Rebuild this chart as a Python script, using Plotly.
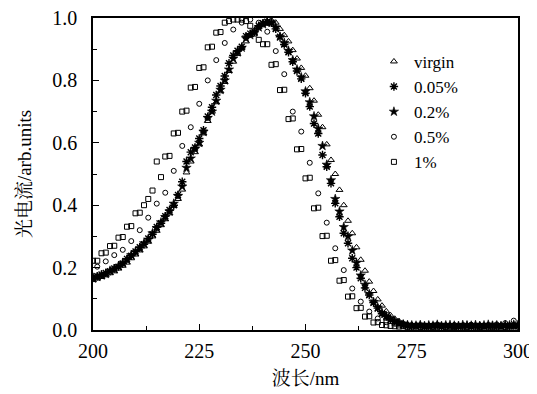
import numpy as np
import plotly.graph_objects as go

# ---------------- data ----------------
wl_main = list(range(200, 301))  # 1 nm grid for virgin / 0.05% / 0.2%

star_02 = [0.165, 0.170, 0.175, 0.180, 0.190, 0.195, 0.205, 0.215, 0.225, 0.240,
           0.250, 0.262, 0.278, 0.290, 0.310, 0.327, 0.345, 0.362, 0.380, 0.405,
           0.430, 0.460, 0.520, 0.550, 0.580, 0.600, 0.635, 0.680, 0.700, 0.735,
           0.770, 0.800, 0.835, 0.870, 0.890, 0.905, 0.935, 0.945, 0.955, 0.970,
           0.980, 0.985, 0.985, 0.970, 0.940, 0.920, 0.895, 0.865, 0.835, 0.810,
           0.765, 0.730, 0.685, 0.645, 0.590, 0.530, 0.480, 0.420, 0.380, 0.330,
           0.300, 0.255, 0.215, 0.175, 0.145, 0.115, 0.090, 0.072, 0.055, 0.043,
           0.035, 0.027, 0.022, 0.018, 0.016, 0.015, 0.014, 0.016, 0.013, 0.015,
           0.014, 0.017, 0.013, 0.015, 0.016, 0.014, 0.013, 0.016, 0.015, 0.014,
           0.016, 0.013, 0.015, 0.017, 0.014, 0.015, 0.013, 0.016, 0.015, 0.017,
           0.016]

ast_005 = [0.170, 0.172, 0.178, 0.183, 0.188, 0.197, 0.203, 0.213, 0.228, 0.238,
           0.252, 0.265, 0.275, 0.293, 0.307, 0.330, 0.342, 0.365, 0.385, 0.400,
           0.433, 0.475, 0.540, 0.570, 0.585, 0.614, 0.640, 0.684, 0.714, 0.753,
           0.782, 0.814, 0.855, 0.880, 0.895, 0.908, 0.942, 0.950, 0.956, 0.975,
           0.983, 0.988, 0.985, 0.965, 0.940, 0.915, 0.890, 0.860, 0.830, 0.805,
           0.759, 0.716, 0.662, 0.630, 0.561, 0.523, 0.470, 0.406, 0.363, 0.310,
           0.278, 0.230, 0.200, 0.166, 0.135, 0.112, 0.088, 0.070, 0.052, 0.043,
           0.033, 0.027, 0.021, 0.017, 0.014, 0.013, 0.012, 0.014, 0.011, 0.013,
           0.012, 0.014, 0.011, 0.013, 0.012, 0.011, 0.013, 0.012, 0.014, 0.011,
           0.012, 0.013, 0.011, 0.012, 0.014, 0.012, 0.011, 0.013, 0.012, 0.014,
           0.013]

virgin = [0.160, 0.165, 0.170, 0.175, 0.182, 0.188, 0.197, 0.206, 0.216, 0.230,
          0.242, 0.255, 0.268, 0.283, 0.300, 0.318, 0.336, 0.355, 0.374, 0.398,
          0.420, 0.450, 0.505, 0.540, 0.570, 0.595, 0.630, 0.670, 0.700, 0.730,
          0.765, 0.795, 0.830, 0.860, 0.885, 0.905, 0.925, 0.945, 0.960, 0.972,
          0.982, 0.990, 0.992, 0.985, 0.965, 0.945, 0.925, 0.897, 0.870, 0.840,
          0.815, 0.775, 0.735, 0.690, 0.650, 0.595, 0.545, 0.500, 0.449, 0.400,
          0.350, 0.310, 0.265, 0.225, 0.190, 0.155, 0.125, 0.098, 0.078, 0.060,
          0.047, 0.036, 0.028, 0.022, 0.018, 0.016, 0.015, 0.013, 0.015, 0.014,
          0.012, 0.014, 0.015, 0.013, 0.012, 0.014, 0.013, 0.015, 0.012, 0.014,
          0.013, 0.015, 0.012, 0.014, 0.013, 0.012, 0.014, 0.013, 0.015, 0.012,
          0.014]

wl_circ = list(range(201, 300, 2))  # 0.5% sampled every 2 nm
circ_05 = [0.203, 0.220, 0.240, 0.257, 0.285, 0.320, 0.360, 0.405, 0.440, 0.510,
           0.590, 0.650, 0.725, 0.800, 0.865, 0.920, 0.963, 0.985, 0.995, 0.985,
           0.956, 0.894, 0.820, 0.700, 0.636, 0.536, 0.438, 0.344, 0.262, 0.192,
           0.133, 0.091, 0.059, 0.037, 0.025, 0.020, 0.017, 0.015, 0.016, 0.014,
           0.017, 0.015, 0.016, 0.014, 0.017, 0.015, 0.016, 0.018, 0.022, 0.030]

wl_sq = list(range(200, 301))  # 1% on 1 nm grid
sq_1 = [0.222, 0.222, 0.246, 0.248, 0.269, 0.270, 0.296, 0.298, 0.331, 0.333,
        0.374, 0.376, 0.400, 0.420, 0.447, 0.540, 0.490, 0.556, 0.558, 0.630,
        0.632, 0.700, 0.703, 0.777, 0.779, 0.840, 0.842, 0.906, 0.908, 0.953,
        0.955, 0.985, 0.990, 0.995, 0.995, 0.995, 0.990, 0.975, 0.950, 0.930,
        0.916, 0.916, 0.850, 0.852, 0.769, 0.770, 0.676, 0.678, 0.579, 0.580,
        0.486, 0.488, 0.390, 0.392, 0.301, 0.302, 0.222, 0.224, 0.158, 0.160,
        0.107, 0.108, 0.070, 0.071, 0.043, 0.044, 0.024, 0.025, 0.016, 0.015,
        0.013, 0.012, 0.011, 0.012, 0.010, 0.011, 0.012, 0.010, 0.011, 0.012,
        0.010, 0.011, 0.012, 0.010, 0.011, 0.010, 0.012, 0.011, 0.010, 0.012,
        0.011, 0.010, 0.012, 0.011, 0.010, 0.011, 0.012, 0.010, 0.011, 0.012,
        0.011]

x_ticks = [200, 225, 250, 275, 300]
y_ticks = [0.0, 0.2, 0.4, 0.6, 0.8, 1.0]
y_ticklabels = ["0.0", "0.2", "0.4", "0.6", "0.8", "1.0"]

FONT = "Liberation Serif, Noto Serif CJK SC, Noto Sans CJK SC, serif"

fig = go.Figure()
fig.add_trace(go.Scatter(x=wl_main, y=virgin, mode="markers", name="virgin",
                         marker=dict(symbol="triangle-up-open", size=6, color="black",
                                     line=dict(width=1, color="black"))))
fig.add_trace(go.Scatter(x=wl_main, y=ast_005, mode="markers", name="0.05%",
                         marker=dict(symbol="asterisk-open", size=7, color="black",
                                     line=dict(width=1.4, color="black"))))
fig.add_trace(go.Scatter(x=wl_main, y=star_02, mode="markers", name="0.2%",
                         marker=dict(symbol="star", size=7, color="black",
                                     line=dict(width=0.6, color="black"))))
fig.add_trace(go.Scatter(x=wl_circ, y=circ_05, mode="markers", name="0.5%",
                         marker=dict(symbol="circle-open", size=5, color="black",
                                     line=dict(width=1, color="black"))))
fig.add_trace(go.Scatter(x=wl_sq, y=sq_1, mode="markers", name="1%",
                         marker=dict(symbol="square-open", size=5, color="black",
                                     line=dict(width=1, color="black"))))

axis_common = dict(
    showline=True, linecolor="black", linewidth=1.5, mirror=True,
    ticks="inside", ticklen=6, tickwidth=1.2, tickcolor="black",
    showgrid=False, zeroline=False,
    tickfont=dict(family=FONT, size=20, color="black"),
    ticklabeloverflow="allow",
)

fig.update_xaxes(range=[200, 300], tickvals=x_ticks, automargin=False,
                 minor=dict(ticks="inside", ticklen=4, tickwidth=1, tickcolor="black",
                            dtick=12.5, tick0=200, showgrid=False),
                 ticklabelstandoff=2,
                 title=dict(text="波长/nm", font=dict(family=FONT, size=19, color="black"),
                            standoff=11),
                 **axis_common)
fig.update_yaxes(range=[0, 1.0], tickvals=y_ticks, ticktext=y_ticklabels, automargin=True,
                 minor=dict(ticks="inside", ticklen=4, tickwidth=1, tickcolor="black",
                            dtick=0.1, tick0=0, showgrid=False),
                 ticklabelstandoff=10,
                 title=dict(text="光电流/arb.units", font=dict(family=FONT, size=19, color="black"),
                            standoff=16),
                 **axis_common)

fig.update_layout(
    width=529, height=386,
    margin=dict(l=85, r=19, t=10, b=64, autoexpand=False),
    paper_bgcolor="white", plot_bgcolor="white",
    font=dict(family=FONT, color="black"),
    showlegend=True,
    legend=dict(x=0.661, y=0.917, xanchor="left", yanchor="top",
                bgcolor="rgba(0,0,0,0)", borderwidth=0,
                font=dict(family=FONT, size=17, color="black"),
                itemwidth=30, tracegroupgap=0),
)

fig.write_html("out.html")
